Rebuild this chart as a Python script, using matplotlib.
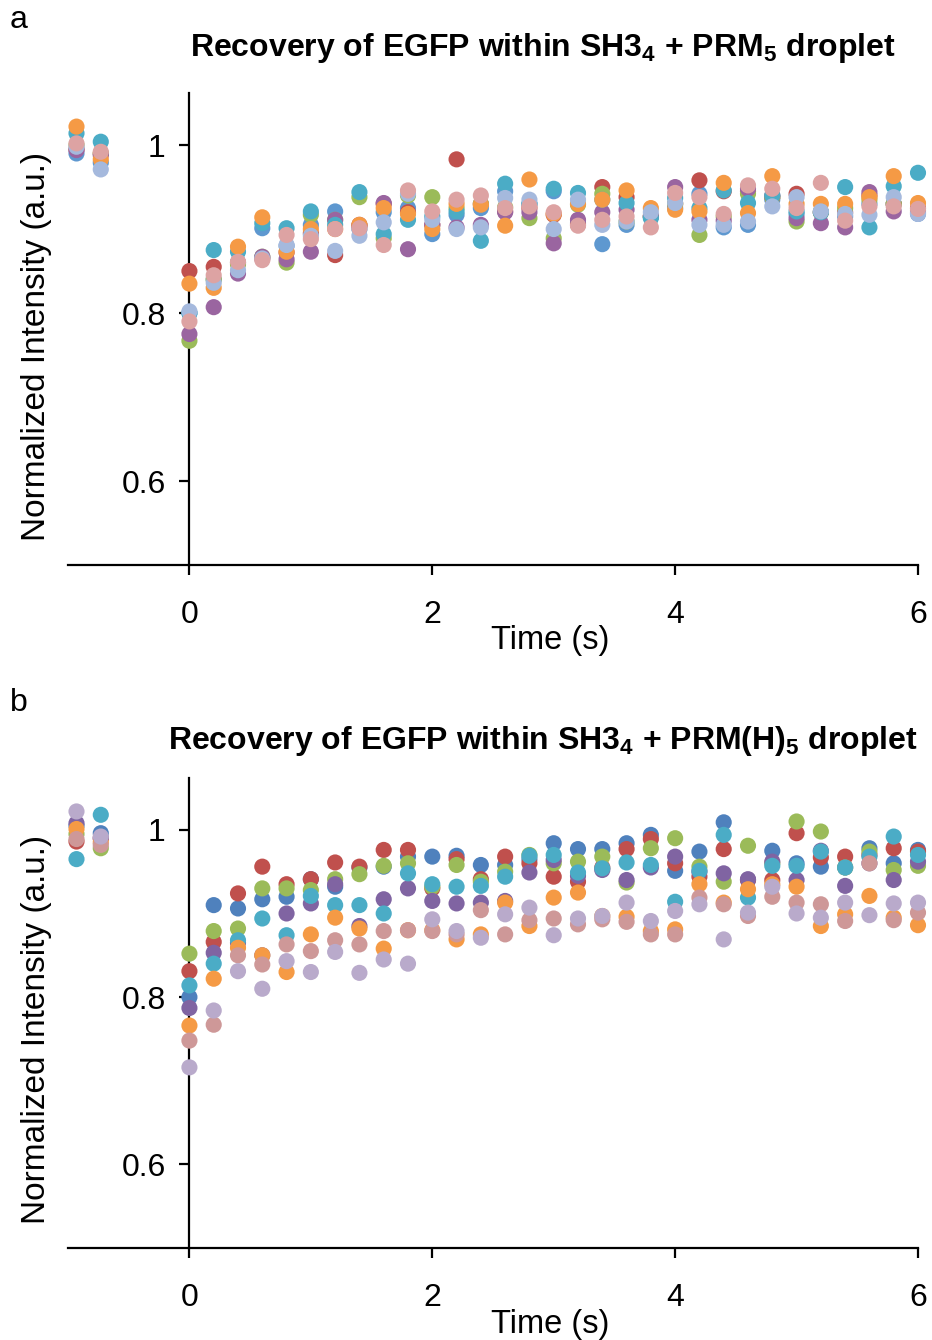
import matplotlib
matplotlib.use("Agg")
import matplotlib.pyplot as plt

plt.rcParams['font.family'] = ['Liberation Sans', 'DejaVu Sans']
plt.rcParams['mathtext.fontset'] = 'custom'
plt.rcParams['mathtext.rm'] = 'Liberation Sans'
plt.rcParams['mathtext.bf'] = 'Liberation Sans:bold'

# time points (s): two pre-bleach frames then 0..6 s every 0.2 s
time = [-0.93, -0.73] + [round(0.2 * i, 1) for i in range(31)]

# ---------- panel a: SH3_4 + PRM_5 ----------
a_blue = [0.990, 0.979, 0.800, 0.840, 0.860, 0.901, 0.880, 0.905, 0.921, 0.900, 0.920, 0.925, 0.894, 0.917, 0.925, 0.945, 0.930,
          0.945, 0.907, 0.882, 0.905, 0.915, 0.925, 0.942, 0.902, 0.905, 0.935, 0.918, 0.920, 0.915, 0.930, 0.930, 0.918]
a_red = [0.995, 0.990, 0.850, 0.855, 0.860, 0.865, 0.872, 0.895, 0.869, 0.905, 0.930, 0.920, 0.905, 0.983, 0.930, 0.921, 0.925,
         0.917, 0.905, 0.950, 0.938, 0.915, 0.930, 0.958, 0.945, 0.945, 0.938, 0.942, 0.920, 0.920, 0.940, 0.930, 0.925]
a_green = [1.000, 0.990, 0.767, 0.840, 0.858, 0.867, 0.860, 0.917, 0.911, 0.938, 0.889, 0.940, 0.938, 0.925, 0.930, 0.926, 0.913,
           0.889, 0.929, 0.942, 0.909, 0.915, 0.930, 0.893, 0.915, 0.942, 0.938, 0.909, 0.920, 0.925, 0.935, 0.930, 0.922]
a_purple = [0.994, 0.988, 0.775, 0.807, 0.847, 0.867, 0.864, 0.873, 0.911, 0.904, 0.931, 0.876, 0.905, 0.902, 0.905, 0.920, 0.920,
            0.883, 0.911, 0.920, 0.923, 0.915, 0.950, 0.911, 0.910, 0.948, 0.940, 0.913, 0.907, 0.902, 0.944, 0.921, 0.920]
a_cyan = [1.014, 1.004, 0.800, 0.875, 0.873, 0.907, 0.901, 0.921, 0.905, 0.944, 0.894, 0.911, 0.915, 0.921, 0.886, 0.954, 0.930,
          0.948, 0.943, 0.935, 0.931, 0.913, 0.937, 0.925, 0.946, 0.931, 0.940, 0.921, 0.920, 0.950, 0.902, 0.951, 0.967]
a_orange = [1.022, 0.983, 0.835, 0.830, 0.879, 0.914, 0.873, 0.900, 0.900, 0.905, 0.925, 0.918, 0.900, 0.930, 0.929, 0.904, 0.959,
            0.918, 0.930, 0.935, 0.946, 0.925, 0.923, 0.921, 0.955, 0.919, 0.963, 0.930, 0.930, 0.930, 0.938, 0.963, 0.931]
a_lightblue = [0.998, 0.971, 0.802, 0.836, 0.851, 0.865, 0.881, 0.892, 0.874, 0.892, 0.908, 0.942, 0.911, 0.900, 0.902, 0.937, 0.935,
               0.900, 0.935, 0.905, 0.909, 0.920, 0.931, 0.905, 0.905, 0.909, 0.927, 0.938, 0.921, 0.918, 0.917, 0.938, 0.918]
a_pink = [1.002, 0.992, 0.790, 0.845, 0.861, 0.863, 0.893, 0.888, 0.900, 0.901, 0.881, 0.946, 0.921, 0.935, 0.940, 0.925, 0.927,
          0.920, 0.904, 0.911, 0.915, 0.902, 0.943, 0.938, 0.918, 0.952, 0.948, 0.925, 0.955, 0.910, 0.927, 0.927, 0.924]

# ---------- panel b: SH3_4 + PRM(H)_5 ----------
b_blue = [1.005, 0.996, 0.800, 0.910, 0.906, 0.917, 0.920, 0.941, 0.932, 0.955, 0.956, 0.968, 0.968, 0.969, 0.958, 0.958, 0.965,
          0.984, 0.977, 0.977, 0.984, 0.994, 0.951, 0.974, 1.009, 0.940, 0.975, 0.960, 0.956, 0.955, 0.978, 0.960, 0.976]
b_red = [0.986, 0.990, 0.831, 0.866, 0.924, 0.956, 0.935, 0.941, 0.961, 0.956, 0.976, 0.976, 0.930, 0.965, 0.941, 0.968, 0.960,
         0.944, 0.938, 0.955, 0.977, 0.989, 0.960, 0.944, 0.977, 0.940, 0.940, 0.996, 0.967, 0.968, 0.970, 0.978, 0.974]
b_green = [0.995, 0.978, 0.852, 0.879, 0.882, 0.930, 0.930, 0.928, 0.941, 0.947, 0.957, 0.960, 0.932, 0.958, 0.938, 0.950, 0.970,
           0.960, 0.962, 0.968, 0.937, 0.978, 0.990, 0.956, 0.938, 0.981, 0.960, 1.010, 0.998, 0.955, 0.974, 0.952, 0.957]
b_purple = [1.008, 0.990, 0.787, 0.853, 0.865, 0.850, 0.900, 0.912, 0.935, 0.885, 0.917, 0.930, 0.915, 0.912, 0.913, 0.915, 0.949,
            0.964, 0.945, 0.952, 0.940, 0.955, 0.968, 0.950, 0.948, 0.941, 0.962, 0.940, 0.975, 0.933, 0.960, 0.940, 0.962]
b_cyan = [0.965, 1.018, 0.814, 0.840, 0.868, 0.894, 0.874, 0.921, 0.910, 0.910, 0.900, 0.948, 0.935, 0.932, 0.933, 0.944, 0.969,
          0.970, 0.949, 0.954, 0.961, 0.958, 0.914, 0.951, 0.994, 0.919, 0.957, 0.957, 0.974, 0.955, 0.968, 0.992, 0.970]
b_orange = [1.001, 0.985, 0.766, 0.822, 0.859, 0.850, 0.830, 0.875, 0.895, 0.882, 0.858, 0.880, 0.880, 0.869, 0.875, 0.913, 0.885,
            0.919, 0.925, 0.897, 0.896, 0.879, 0.881, 0.935, 0.913, 0.929, 0.935, 0.932, 0.885, 0.899, 0.921, 0.895, 0.886]
b_pink = [0.989, 0.982, 0.748, 0.767, 0.850, 0.839, 0.863, 0.855, 0.868, 0.863, 0.879, 0.880, 0.879, 0.875, 0.904, 0.875, 0.892,
          0.894, 0.887, 0.893, 0.890, 0.875, 0.875, 0.919, 0.911, 0.897, 0.920, 0.913, 0.911, 0.891, 0.960, 0.892, 0.901]
b_lavender = [1.022, 0.992, 0.716, 0.784, 0.831, 0.810, 0.843, 0.830, 0.854, 0.829, 0.845, 0.840, 0.893, 0.879, 0.871, 0.899, 0.907,
              0.874, 0.894, 0.897, 0.913, 0.891, 0.903, 0.911, 0.869, 0.901, 0.932, 0.900, 0.895, 0.913, 0.898, 0.912, 0.913]

series_a = [a_blue, a_red, a_green, a_purple, a_cyan, a_orange, a_lightblue, a_pink]
colors_a = ['#5E98D0', '#C0504D', '#9BBB59', '#9A65A0', '#4BACC6', '#F59A45', '#A5B9DD', '#DDA3A3']
series_b = [b_blue, b_red, b_green, b_purple, b_cyan, b_orange, b_pink, b_lavender]
colors_b = ['#4F81BD', '#C0504D', '#9BBB59', '#8064A2', '#4BACC6', '#F59A45', '#CE9898', '#B9AACB']

yticks = [0.6, 0.8, 1.0]
yticklabels = ['0.6', '0.8', '1']
xticks = [0, 2, 4, 6]

fig = plt.figure(figsize=(9.32, 13.4), dpi=100)

W, H = 932.0, 1340.0
def axes_box(left, top, right, bottom):
    return [left / W, 1 - bottom / H, (right - left) / W, (bottom - top) / H]

panels = [
    (axes_box(68, 93, 918, 565), series_a, colors_a,
     r'Recovery of EGFP within SH3$_{\mathbf{4}}$ + PRM$_{\mathbf{5}}$ droplet', 'a', 20, 48, 640),
    (axes_box(68, 778, 918, 1248), series_b, colors_b,
     r'Recovery of EGFP within SH3$_{\mathbf{4}}$ + PRM(H)$_{\mathbf{5}}$ droplet', 'b', 703, 741, 1324),
]

for box, series, colors, title, letter, ly, ty, xly in panels:
    ax = fig.add_axes(box)
    for vals, c in zip(series, colors):
        ax.scatter(time, vals, s=135, color=c, edgecolors='none', zorder=3, clip_on=False)
    ax.set_xlim(-1.0, 6.0)
    ax.set_ylim(0.5, 1.062)
    ax.spines['top'].set_visible(False)
    ax.spines['right'].set_visible(False)
    ax.spines['left'].set_position(('data', 0))
    for sp in ('left', 'bottom'):
        ax.spines[sp].set_linewidth(1.6)
    ax.set_xticks(xticks)
    ax.set_xticklabels([str(t) for t in xticks])
    ax.set_yticks(yticks)
    ax.set_yticklabels(yticklabels)
    ax.tick_params(axis='both', direction='out', length=7, width=1.6, labelsize=23)
    ax.tick_params(axis='x', pad=18)
    ax.tick_params(axis='y', pad=10)
    fig.text(543 / W, 1 - ty / H, title, ha='center', va='center', fontsize=23, fontweight='bold')
    fig.text(10 / W, 1 - ly / H, letter, ha='left', va='center', fontsize=23)
    fig.text(550 / W, 1 - xly / H, 'Time (s)', ha='center', va='center', fontsize=23.5)
    ax.set_ylabel('Normalized Intensity (a.u.)', fontsize=24)
    ax.yaxis.set_label_coords((52 - 68) / 850.0, 0.5 - 17 / 472.0)

fig.savefig('out.png', dpi=100)
